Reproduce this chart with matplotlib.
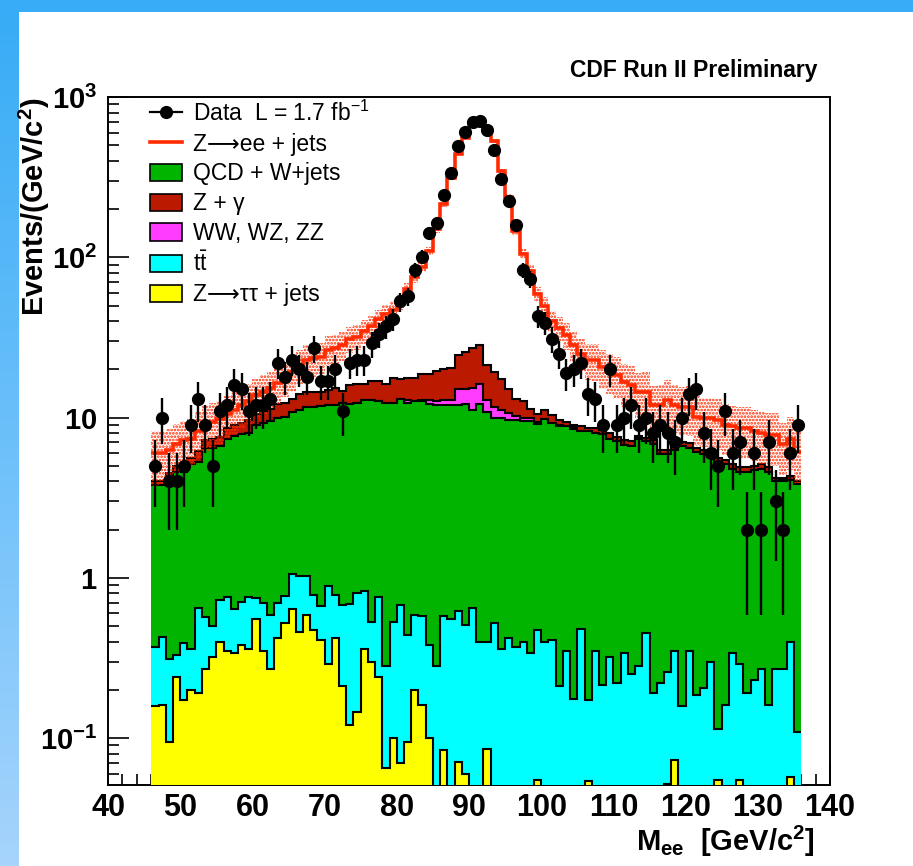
"""
CDF Run II Preliminary: di-electron invariant mass with stacked backgrounds
"""

import numpy as np
import matplotlib
matplotlib.use('Agg')
import matplotlib.pyplot as plt
from matplotlib.patches import Patch, Rectangle
from matplotlib.lines import Line2D
from matplotlib.colors import LinearSegmentedColormap
from matplotlib.ticker import FixedLocator, MultipleLocator, NullFormatter

plt.rcParams['font.family'] = ['Liberation Sans', 'DejaVu Sans']
plt.rcParams['mathtext.fontset'] = 'custom'
plt.rcParams['mathtext.rm'] = 'Liberation Sans'
plt.rcParams['mathtext.bf'] = 'Liberation Sans:bold'
plt.rcParams['mathtext.it'] = 'Liberation Sans:italic'
plt.rcParams['hatch.linewidth'] = 1.3

# 1 GeV bins from 46 to 136 GeV/c^2
bin_edges = np.arange(46, 137)

# observed events per bin
data_counts = [5, 10, 4, 4, 5, 9, 13, 9, 5, 11,
               12, 16, 15, 11, 12, 12, 13, 22, 18, 23,
               20, 18, 27, 17, 17, 20, 11, 22, 23, 23,
               29, 33, 37, 41, 53, 57, 83, 101, 141, 163,
               245, 337, 494, 607, 700, 713, 621, 465, 308, 223,
               160, 83, 73, 43, 39, 31, 25, 19, 20, 22,
               14, 13, 9, 20, 9, 10, 12, 9, 10, 8,
               9, 8, 7, 10, 14, 15, 8, 6, 5, 11,
               6, 7, 2, 6, 2, 7, 3, 2, 6, 9]

# stacked levels (top of each layer)
ztt_top = [0.158, 0.16, 0.094, 0.24, 0.172, 0.20, 0.19, 0.27, 0.32, 0.40,
           0.35, 0.34, 0.38, 0.36, 0.55, 0.35, 0.27, 0.42, 0.52, 0.64,
           0.46, 0.59, 0.47, 0.41, 0.29, 0.42, 0.21, 0.12, 0.146, 0.36,
           0.30, 0.24, 0.065, 0.10, 0.070, 0.094, 0.20, 0.16, 0.10, 0,
           0.084, 0, 0.071, 0.060, 0, 0, 0.086, 0, 0, 0,
           0, 0, 0, 0.055, 0, 0, 0, 0, 0, 0,
           0.054, 0, 0, 0, 0, 0, 0, 0, 0, 0,
           0, 0.052, 0.073, 0, 0, 0, 0, 0, 0.055, 0,
           0, 0.055, 0, 0, 0, 0, 0, 0, 0.0575, 0]

ttbar_top = [0.37, 0.43, 0.31, 0.33, 0.39, 0.36, 0.65, 0.57, 0.50, 0.73,
             0.76, 0.64, 0.71, 0.76, 0.75, 0.70, 0.59, 0.70, 0.77, 1.06,
             1.02, 1.03, 0.78, 0.67, 0.89, 0.78, 0.68, 0.69, 0.81, 0.83,
             0.53, 0.76, 0.28, 0.53, 0.68, 0.44, 0.59, 0.58, 0.38, 0.28,
             0.58, 0.55, 0.62, 0.51, 0.65, 0.40, 0.40, 0.52, 0.36, 0.42,
             0.37, 0.40, 0.34, 0.47, 0.40, 0.41, 0.21, 0.35, 0.176, 0.48,
             0.172, 0.35, 0.215, 0.32, 0.22, 0.34, 0.25, 0.28, 0.45, 0.19,
             0.22, 0.26, 0.35, 0.158, 0.35, 0.185, 0.205, 0.30, 0.114, 0.16,
             0.34, 0.29, 0.19, 0.23, 0.27, 0.16, 0.27, 0.27, 0.40, 0.109]

qcd_top = [3.8, 3.8, 4.2, 4.6, 4.6, 5.1, 5.3, 6.5, 6.5, 6.6,
           7.4, 7.7, 7.9, 8.0, 9.0, 9.3, 9.5, 9.9, 10.1, 10.9,
           11.1, 11.7, 11.7, 11.8, 12.0, 12.0, 12.3, 12.1, 12.3, 12.9,
           12.9, 12.6, 12.3, 12.4, 13.1, 12.4, 12.6, 12.6, 12.2, 12.0,
           12.0, 11.9, 12.0, 12.2, 11.2, 12.1, 10.9, 9.9, 10.0, 9.7,
           9.7, 9.5, 9.5, 9.1, 9.8, 9.2, 8.8, 8.8, 8.5, 8.3,
           8.2, 8.0, 7.9, 7.4, 7.1, 6.7, 6.6, 7.3, 7.1, 6.8,
           5.9, 5.9, 6.3, 6.6, 6.5, 6.1, 5.9, 5.7, 5.3, 5.1,
           4.8, 4.6, 4.6, 4.7, 4.8, 4.6, 4.0, 4.0, 4.1, 3.85]

vv_top = [3.8, 3.8, 4.2, 4.6, 4.6, 5.1, 5.3, 6.5, 6.5, 6.6,
          7.4, 7.7, 7.9, 8.0, 9.0, 9.3, 9.5, 9.9, 10.1, 10.9,
          11.1, 11.7, 11.7, 11.8, 12.0, 12.0, 12.3, 12.1, 12.3, 12.9,
          12.9, 12.6, 12.3, 12.4, 13.1, 12.8, 12.7, 12.9, 12.8, 12.7,
          12.8, 12.8, 15.0, 15.0, 15.2, 16.3, 12.9, 11.7, 11.2, 10.7,
          10.2, 9.9, 9.9, 9.4, 9.8, 9.3, 9.0, 8.8, 8.7, 8.3,
          8.2, 8.0, 7.9, 7.4, 7.1, 6.7, 6.6, 7.5, 7.1, 6.8,
          5.9, 5.9, 6.3, 6.6, 6.5, 6.1, 5.9, 5.7, 5.3, 5.1,
          4.8, 4.6, 4.6, 4.7, 4.8, 4.6, 4.0, 4.15, 4.1, 3.85]

zgamma_top = [4.0, 4.0, 4.5, 5.0, 5.0, 5.6, 6.2, 7.2, 7.3, 7.6,
              8.6, 9.0, 9.3, 9.6, 10.5, 11.0, 11.3, 12.1, 12.3, 13.0,
              14.0, 14.5, 14.5, 14.5, 14.8, 15.2, 14.6, 16.0, 16.3, 16.3,
              16.8, 17.0, 16.3, 17.7, 17.3, 17.7, 17.7, 18.8, 18.8, 19.5,
              20.0, 20.5, 24.5, 25.7, 27.0, 28.5, 21.4, 19.3, 17.5, 15.0,
              13.0, 12.6, 11.3, 10.5, 11.2, 10.4, 9.7, 9.4, 9.0, 8.8,
              8.6, 8.6, 8.4, 8.0, 7.6, 7.2, 7.1, 7.7, 7.5, 7.2,
              6.3, 6.3, 6.7, 7.0, 6.9, 6.5, 6.3, 6.0, 5.6, 5.4,
              5.1, 4.9, 4.9, 5.0, 5.1, 4.9, 4.2, 4.2, 4.3, 4.0]

# total prediction including Z->ee + jets
mc_total = [6.0, 6.0, 6.3, 6.8, 7.2, 7.4, 8.2, 9.0, 9.4, 9.8,
            10.5, 11.2, 12.0, 12.6, 13.8, 14.5, 15.2, 16.5, 18.0, 19.3,
            21.2, 23.0, 23.4, 24.0, 26.5, 27.0, 28.3, 31.0, 32.0, 34.5,
            37.0, 41.0, 44.0, 47.0, 53.0, 63.0, 75.0, 87.0, 110.0, 150.0,
            216.0, 314.0, 439.0, 556.0, 690.0, 710.0, 640.0, 530.0, 347.0, 237.0,
            145.0, 105.0, 82.0, 59.0, 50.0, 40.0, 36.0, 32.6, 28.3, 25.0,
            23.0, 22.8, 20.7, 19.5, 18.4, 16.7, 16.0, 14.5, 14.5, 12.0,
            12.0, 12.9, 12.0, 11.7, 11.7, 10.1, 9.9, 9.9, 9.7, 9.0,
            8.8, 8.6, 8.6, 8.3, 8.0, 7.8, 7.8, 6.8, 7.4, 6.1]

# relative uncertainty of the prediction (hatched band)
mc_rel_unc = [0.38, 0.36, 0.35, 0.34, 0.33, 0.33, 0.32, 0.32, 0.31, 0.30,
              0.30, 0.29, 0.28, 0.28, 0.27, 0.27, 0.26, 0.26, 0.25, 0.25,
              0.24, 0.23, 0.23, 0.22, 0.21, 0.21, 0.20, 0.19, 0.18, 0.17,
              0.16, 0.15, 0.14, 0.13, 0.12, 0.10, 0.08, 0.07, 0.06, 0.05,
              0.04, 0.03, 0.03, 0.02, 0.02, 0.02, 0.02, 0.03, 0.03, 0.04,
              0.05, 0.07, 0.09, 0.11, 0.13, 0.15, 0.17, 0.19, 0.21, 0.23,
              0.25, 0.26, 0.27, 0.28, 0.29, 0.30, 0.31, 0.31, 0.32, 0.32,
              0.33, 0.33, 0.33, 0.33, 0.34, 0.34, 0.34, 0.34, 0.35, 0.35,
              0.35, 0.35, 0.35, 0.35, 0.36, 0.36, 0.36, 0.36, 0.36, 0.36]

legend_labels = ['Data  L = 1.7 fb$^{-1}$', 'Z\u27f6ee + jets', 'QCD + W+jets',
                 'Z + \u03b3', 'WW, WZ, ZZ', r'$\mathrm{t\bar{t}}$',
                 'Z\u27f6\u03c4\u03c4 + jets']

col_ztt = '#ffff00'
col_tt = '#00ffff'
col_qcd = '#00b400'
col_vv = '#ff3cff'
col_zg = '#bb1a00'
col_zee = '#ff2a00'

W, H = 913, 866
fig = plt.figure(figsize=(W / 100, H / 100), dpi=100)
fig.patch.set_facecolor('white')

# blue slide frame: top band and left gradient strip
fig.patches.append(Rectangle((0, 1 - 12 / H), 1, 12 / H, transform=fig.transFigure,
                             facecolor='#38acf6', edgecolor='none', zorder=0))
strip = fig.add_axes([0, 0, 18 / W, 1 - 12 / H])
strip.axis('off')
grad_cmap = LinearSegmentedColormap.from_list('strip', ['#a6d4fc', '#6cc0fa', '#38acf6'])
strip.imshow(np.linspace(1, 0, 256).reshape(-1, 1), aspect='auto', cmap=grad_cmap,
             extent=[0, 1, 0, 1])

ax = fig.add_axes([108 / W, 1 - 785 / H, 722 / W, 688 / H])
ax.set_yscale('log')

ymin = 0.051
ztt = np.array(ztt_top, dtype=float)
ztt_draw = np.where(ztt > 0, ztt, 1e-3)

layers = [(zgamma_top, col_zg, 2), (vv_top, col_vv, 3), (qcd_top, col_qcd, 4),
          (ttbar_top, col_tt, 5), (ztt_draw, col_ztt, 6)]
for vals, col, z in layers:
    ax.stairs(vals, bin_edges, baseline=1e-3, fill=True, facecolor=col,
              edgecolor='none', zorder=z)
    ax.stairs(vals, bin_edges, baseline=None, fill=False, color='black',
              lw=1.5, zorder=z + 0.5)

mc = np.array(mc_total)
unc = mc * np.array(mc_rel_unc)
ax.stairs(mc + unc, bin_edges, baseline=mc - unc, fill=True, facecolor='none',
          edgecolor=col_zee, hatch='.....', lw=0, zorder=8)
ax.stairs(mc, bin_edges, baseline=None, color=col_zee, lw=2.6, zorder=9)

centers = 0.5 * (bin_edges[:-1] + bin_edges[1:])
counts = np.array(data_counts, dtype=float)
ax.errorbar(centers, counts, yerr=np.sqrt(counts), fmt='o', color='black',
            ms=8.5, elinewidth=1.7, capsize=0, zorder=10)

ax.set_xlim(40, 140)
ax.set_ylim(ymin, 1000)

ax.xaxis.set_major_locator(MultipleLocator(10))
ax.xaxis.set_minor_locator(MultipleLocator(2))
ax.yaxis.set_major_locator(FixedLocator([0.1, 1, 10, 100, 1000]))
minors = [m * 10.0 ** e for e in range(-2, 3) for m in range(2, 10)]
ax.yaxis.set_minor_locator(FixedLocator(minors))
ax.yaxis.set_minor_formatter(NullFormatter())
ax.set_yticklabels([r'$\mathbf{10^{-1}}$', r'$\mathbf{1}$', r'$\mathbf{10}$',
                    r'$\mathbf{10^{2}}$', r'$\mathbf{10^{3}}$'])
ax.set_xticks(np.arange(40, 141, 10))
ax.set_xticklabels([str(v) for v in range(40, 141, 10)], fontweight='bold')

ax.tick_params(axis='both', which='both', direction='in', top=False, right=False)
ax.tick_params(axis='both', which='major', length=15, width=1.2)
ax.tick_params(axis='both', which='minor', length=8, width=1.2)
ax.tick_params(axis='x', which='major', pad=6, labelsize=22)
ax.tick_params(axis='y', which='major', pad=8, labelsize=21)
for sp in ax.spines.values():
    sp.set_linewidth(1.4)

ax.set_ylabel(r'$\mathbf{Events/(GeV/c^{2})}$', fontsize=21, loc='top')
ax.yaxis.set_label_coords(-0.0776, 1.0)
fig.text(815 / W, 1 - 851 / H, r'$\mathbf{M_{ee}\ \ [GeV/c^{2}]}$', fontsize=21,
         ha='right', va='baseline')
fig.text(817 / W, 1 - 70 / H, 'CDF Run II Preliminary', fontsize=16.5,
         fontweight='bold', ha='right', va='center')

handles = [Line2D([], [], color='black', marker='o', ms=8.5, lw=1.6),
           Line2D([], [], color=col_zee, lw=2.6),
           Patch(facecolor=col_qcd, edgecolor='black', lw=1.2),
           Patch(facecolor=col_zg, edgecolor='black', lw=1.2),
           Patch(facecolor=col_vv, edgecolor='black', lw=1.2),
           Patch(facecolor=col_tt, edgecolor='black', lw=1.2),
           Patch(facecolor=col_ztt, edgecolor='black', lw=1.2)]
ax.legend(handles, legend_labels, loc='upper left', bbox_to_anchor=(0.058, 0.995),
          frameon=False, fontsize=16.5, handlelength=1.4, handleheight=0.8,
          handletextpad=0.5, labelspacing=0.3, borderpad=0, borderaxespad=0)

fig.savefig('out.png', dpi=100)
